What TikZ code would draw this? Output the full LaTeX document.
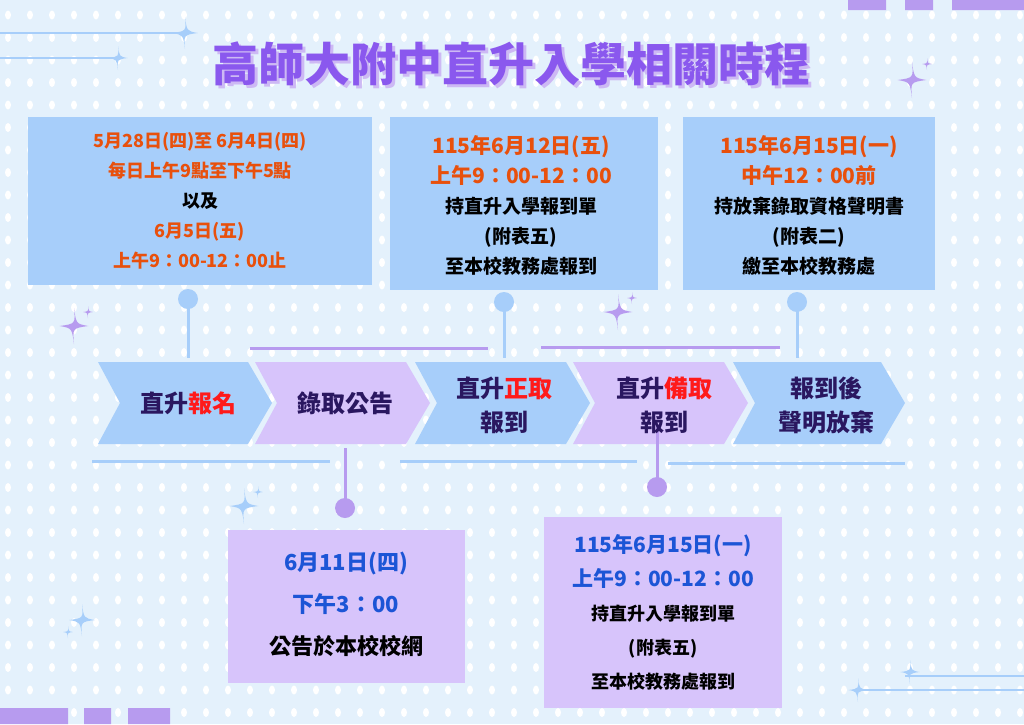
\documentclass[tikz,border=0pt]{standalone}
\usepackage{fontspec}
\setmainfont{Noto Sans CJK TC}
\definecolor{bg}{HTML}{E4F1FC}
\definecolor{bbox}{HTML}{A7CEFA}
\definecolor{pbox}{HTML}{D7C4FB}
\definecolor{pline}{HTML}{B79BEF}
\definecolor{bline}{HTML}{A7CEFA}
\definecolor{dk}{HTML}{2A1760}
\definecolor{rd}{HTML}{FF1A1A}
\definecolor{og}{HTML}{E8500C}
\definecolor{bl}{HTML}{1C55D6}
\definecolor{ttl}{HTML}{8A58EE}
\definecolor{ttls}{HTML}{CDB9F4}
\tikzset{
  ctext/.style={font=\bfseries\fontsize{24}{34}\selectfont, text=dk, align=center},
  btext/.style={font=\bfseries\fontsize{19}{30}\selectfont, align=center},
  pin/.style={line width=3pt},
}
\newcommand{\spark}[4]{\fill[#3] (#1,#2) ++(0,-#4) .. controls ++(0.12*#4,0.88*#4) .. ++(0.8*#4,#4) .. controls ++(-0.88*#4,0.12*#4) .. ++(-0.8*#4,#4) .. controls ++(-0.12*#4,-0.88*#4) .. ++(-0.8*#4,-#4) .. controls ++(0.88*#4,-0.12*#4) .. cycle;}
\begin{document}
\begin{tikzpicture}[x=1pt,y=-1pt]
\fill[bg] (0,0) rectangle (1024,724);
\useasboundingbox (0,0) rectangle (1024,724);
\foreach \i in {0,...,46}{\foreach \j in {0,...,32}{
  \fill[white] (8+22*\i,15+22.5*\j) ellipse (3 and 4.5);}}
% corner decorations
\fill[pline] (848,0) rectangle (886,10) (905,0) rectangle (933,10) (952,0) rectangle (1024,10);
\fill[pline] (0,708) rectangle (68,724) (84,708) rectangle (111,724) (128,708) rectangle (170,724);
\draw[bline,line width=2pt] (0,33) -- (183,33) (0,58) -- (115,58) (905,676) -- (1024,676) (860,690) -- (1024,690);
\spark{185}{33}{bline}{16}
\spark{118}{58}{bline}{12}
\spark{912}{80}{pline}{18}
\spark{927}{64}{pline}{6}
\spark{74}{326}{pline}{18}
\spark{88}{312}{pline}{6}
\spark{618}{312}{pline}{18}
\spark{632}{298}{pline}{6}
\spark{244}{506}{bline}{18}
\spark{258}{492}{bline}{6}
\spark{82}{620}{bline}{16}
\spark{68}{632}{bline}{6}
\spark{910}{672}{bline}{12}
\spark{858}{690}{bline}{12}
% title
\node[font=\bfseries\fontsize{46}{50}\selectfont, text=ttls] at (514,67) {高師大附中直升入學相關時程};
\node[font=\bfseries\fontsize{46}{50}\selectfont, text=ttl] (title) at (511,64) {高師大附中直升入學相關時程};
% decorative lines
\draw[pline,line width=3pt] (250,348) -- (488,348) (541,347) -- (780,347);
\draw[bline,line width=3pt] (92,461) -- (330,461) (400,461) -- (637,461) (668,463) -- (905,463);
% pins
\draw[bline,pin] (188,299) -- (188,358);
\fill[bline] (188,299) circle (10);
\draw[bline,pin] (504,302) -- (504,358);
\fill[bline] (504,302) circle (10);
\draw[bline,pin] (797,302) -- (797,358);
\fill[bline] (797,302) circle (10);
\draw[pline,pin] (345,448) -- (345,508);
\fill[pline] (345,508) circle (10);
% chevrons
\foreach \l/\t/\c in {98/272/bbox,255/430/pbox,415/590/bbox,573/748/pbox,733/905/bbox}{
  \fill[\c] (\l,362) -- (\t-24,362) -- (\t,403) -- (\t-24,444) -- (\l,444) -- (\l+22,403) -- cycle;}
\draw[pline,pin] (657,425) -- (657,487);
\fill[pline] (657,487) circle (10);
\node[ctext] (c1) at (188,403) {直升\textcolor{rd}{報名}};
\node[ctext] (c2) at (345,403) {錄取公告};
\node[ctext] (c3) at (504,405) {直升\textcolor{rd}{正取}\\報到};
\node[ctext] (c4) at (664,405) {直升\textcolor{rd}{備取}\\報到};
\node[ctext] (c5) at (826,405) {報到後\\聲明放棄};
% top boxes
\fill[bbox] (28,117) rectangle (372,285);
\fill[bbox] (390,117) rectangle (658,290);
\fill[bbox] (683,117) rectangle (935,290);
\node[btext, font=\bfseries\fontsize{18}{30}\selectfont] (b1) at (200,201) {\textcolor{og}{5月28日(四)至 6月4日(四)}\\\textcolor{og}{每日上午9點至下午5點}\\以及\\\textcolor{og}{6月5日(五)}\\\textcolor{og}{上午9：00-12：00止}};
\node[btext] (b2) at (521,205) {\textcolor{og}{\fontsize{21}{30}\selectfont 115年6月12日(五)}\\\textcolor{og}{\fontsize{21}{30}\selectfont 上午9：00-12：00}\\持直升入學報到單\\(附表五)\\至本校教務處報到};
\node[btext] (b3) at (809,205) {\textcolor{og}{\fontsize{21}{30}\selectfont 115年6月15日(一)}\\\textcolor{og}{\fontsize{21}{30}\selectfont 中午12：00前}\\持放棄錄取資格聲明書\\(附表二)\\繳至本校教務處};
% bottom boxes
\fill[pbox] (228,530) rectangle (465,683);
\fill[pbox] (544,517) rectangle (782,708);
\node[btext, font=\bfseries\fontsize{22}{42}\selectfont] (b4) at (346,604) {\textcolor{bl}{6月11日(四)}\\\textcolor{bl}{下午3：00}\\公告於本校校網};
\node[btext, font=\bfseries\fontsize{18}{34}\selectfont] (b5) at (663,612) {\textcolor{bl}{\fontsize{21}{34}\selectfont 115年6月15日(一)}\\\textcolor{bl}{\fontsize{21}{34}\selectfont 上午9：00-12：00}\\持直升入學報到單\\(附表五)\\至本校教務處報到};
\end{tikzpicture}
\end{document}
